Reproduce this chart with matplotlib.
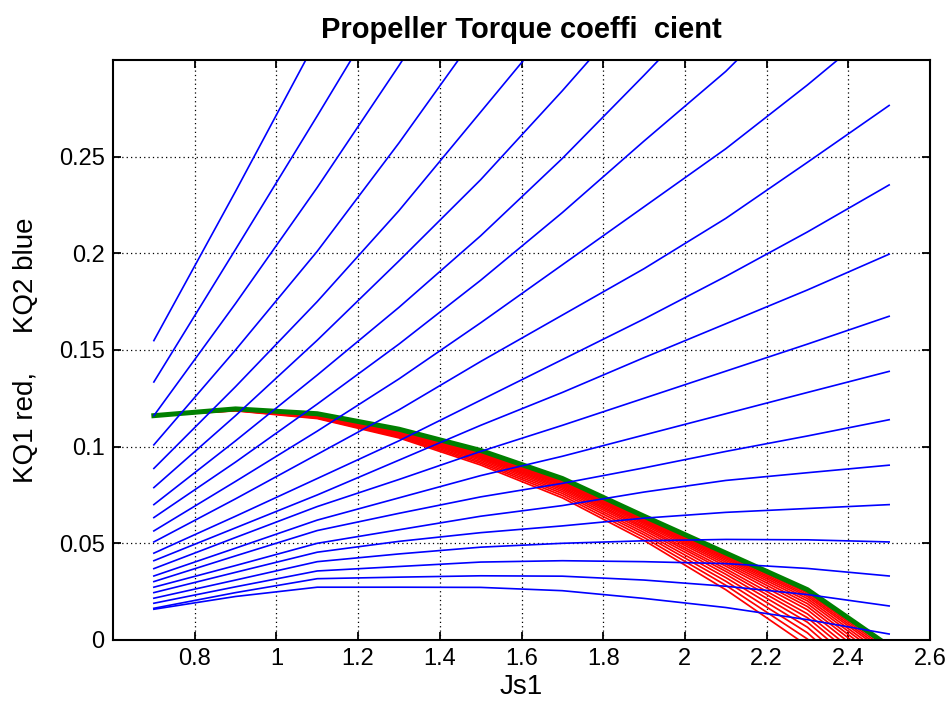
import numpy as np
import matplotlib
matplotlib.use("Agg")
import matplotlib.pyplot as plt

plt.rcParams['font.family'] = ['Liberation Sans', 'DejaVu Sans']

# advance ratio grid
js1 = [0.7, 0.9, 1.1, 1.3, 1.5, 1.7, 1.9, 2.1, 2.3, 2.5]

# KQ2 (blue) - one curve per row
kq2_blue = [
    [0.1548, 0.232, 0.311, 0.392, 0.475, 0.560, 0.645, 0.730, 0.820, 0.910],
    [0.1334, 0.202, 0.271, 0.341, 0.411, 0.483, 0.555, 0.628, 0.700, 0.775],
    [0.1160, 0.174, 0.234, 0.297, 0.362, 0.430, 0.500, 0.570, 0.640, 0.710],
    [0.1009, 0.150, 0.201, 0.257, 0.316, 0.378, 0.440, 0.500, 0.560, 0.620],
    [0.0887, 0.131, 0.175, 0.222, 0.273, 0.324, 0.378, 0.430, 0.485, 0.540],
    [0.0788, 0.116, 0.155, 0.196, 0.238, 0.284, 0.332, 0.380, 0.430, 0.480],
    [0.0700, 0.103, 0.137, 0.172, 0.209, 0.249, 0.292, 0.336, 0.380, 0.425],
    [0.0633, 0.092, 0.122, 0.153, 0.186, 0.221, 0.258, 0.294, 0.336, 0.376],
    [0.0564, 0.082, 0.108, 0.135, 0.164, 0.194, 0.224, 0.254, 0.287, 0.322],
    [0.0507, 0.073, 0.096, 0.119, 0.144, 0.168, 0.192, 0.218, 0.247, 0.2764],
    [0.0449, 0.064, 0.0835, 0.103, 0.124, 0.145, 0.166, 0.188, 0.211, 0.2353],
    [0.0410, 0.058, 0.075, 0.093, 0.111, 0.128, 0.146, 0.1635, 0.181, 0.1995],
    [0.0369, 0.053, 0.069, 0.083, 0.0975, 0.111, 0.125, 0.139, 0.153, 0.1674],
    [0.0331, 0.0475, 0.062, 0.0735, 0.085, 0.095, 0.106, 0.117, 0.128, 0.1389],
    [0.0302, 0.0435, 0.0566, 0.0655, 0.074, 0.081, 0.089, 0.0975, 0.1055, 0.1139],
    [0.0273, 0.0385, 0.050, 0.057, 0.064, 0.0695, 0.0765, 0.0825, 0.0865, 0.0904],
    [0.0245, 0.035, 0.0454, 0.051, 0.0555, 0.059, 0.063, 0.066, 0.068, 0.070],
    [0.0216, 0.031, 0.0405, 0.0445, 0.048, 0.050, 0.0513, 0.052, 0.0518, 0.0507],
    [0.0190, 0.0275, 0.0357, 0.038, 0.0403, 0.041, 0.0405, 0.0395, 0.037, 0.0331],
    [0.0164, 0.0245, 0.0317, 0.0325, 0.0332, 0.033, 0.031, 0.0278, 0.0235, 0.0176],
    [0.0159, 0.0225, 0.0273, 0.0273, 0.0272, 0.0255, 0.0215, 0.0168, 0.0105, 0.0031],
]

# KQ1 (red) family
kq1_red = [
    [0.116, 0.1185, 0.1145, 0.1045, 0.0905, 0.0735, 0.0515, 0.0260, -0.0030, -0.0432],
    [0.116, 0.1186, 0.1148, 0.1050, 0.0914, 0.0747, 0.0530, 0.0283, 0.0005, -0.0384],
    [0.116, 0.1187, 0.1151, 0.1055, 0.0922, 0.0758, 0.0544, 0.0304, 0.0037, -0.0340],
    [0.116, 0.1188, 0.1153, 0.1060, 0.0930, 0.0768, 0.0556, 0.0323, 0.0066, -0.0300],
    [0.116, 0.1189, 0.1156, 0.1064, 0.0937, 0.0777, 0.0568, 0.0340, 0.0092, -0.0264],
    [0.116, 0.1190, 0.1158, 0.1068, 0.0943, 0.0785, 0.0578, 0.0355, 0.0115, -0.0232],
    [0.116, 0.1191, 0.1159, 0.1071, 0.0948, 0.0792, 0.0586, 0.0368, 0.0135, -0.0204],
    [0.116, 0.1191, 0.1161, 0.1074, 0.0953, 0.0799, 0.0595, 0.0382, 0.0156, -0.0176],
    [0.116, 0.1192, 0.1163, 0.1077, 0.0958, 0.0805, 0.0603, 0.0393, 0.0173, -0.0152],
    [0.116, 0.1193, 0.1164, 0.1079, 0.0961, 0.0810, 0.0609, 0.0403, 0.0188, -0.0132],
    [0.116, 0.1193, 0.1165, 0.1081, 0.0965, 0.0815, 0.0615, 0.0412, 0.0202, -0.0112],
    [0.116, 0.1193, 0.1166, 0.1083, 0.0968, 0.0819, 0.0620, 0.0420, 0.0214, -0.0096],
    [0.116, 0.1194, 0.1167, 0.1085, 0.0971, 0.0823, 0.0625, 0.0427, 0.0225, -0.0080],
    [0.116, 0.1194, 0.1168, 0.1086, 0.0973, 0.0826, 0.0629, 0.0433, 0.0234, -0.0068],
    [0.116, 0.1194, 0.1169, 0.1087, 0.0976, 0.0829, 0.0633, 0.0439, 0.0243, -0.0056],
    [0.116, 0.1195, 0.1169, 0.1089, 0.0978, 0.0832, 0.0636, 0.0444, 0.0251, -0.0044],
]

# highlighted (green) curve
kq1_green = [0.116, 0.1195, 0.117, 0.109, 0.098, 0.0835, 0.064, 0.045, 0.026, -0.0032]

xtick_vals = [0.8, 1.0, 1.2, 1.4, 1.6, 1.8, 2.0, 2.2, 2.4, 2.6]
xtick_labels = ['0.8', '1', '1.2', '1.4', '1.6', '1.8', '2', '2.2', '2.4', '2.6']
ytick_vals = [0, 0.05, 0.1, 0.15, 0.2, 0.25]
ytick_labels = ['0', '0.05', '0.1', '0.15', '0.2', '0.25']

fig = plt.figure(figsize=(9.51, 7.05), dpi=100)
ax = fig.add_axes([113/951, 65/705, (930-113)/951, (640-60)/705])

for row in kq1_red:
    ax.plot(js1, row, color=(1, 0, 0), lw=1.25)
ax.plot(js1, kq1_green, color=(0, 0.5, 0), lw=3.6, solid_joinstyle='round')
for row in kq2_blue:
    ax.plot(js1, row, color=(0, 0, 1), lw=1.2)

ax.set_xlim(0.6, 2.6)
ax.set_ylim(0, 0.2999)
ax.set_xticks(xtick_vals)
ax.set_xticklabels(xtick_labels)
ax.set_yticks(ytick_vals)
ax.set_yticklabels(ytick_labels)
ax.grid(True, color='black', linestyle=(0, (1, 2.5)), linewidth=0.9)
ax.tick_params(direction='in', length=6, width=1.3, top=True, right=True,
               labelsize=17, pad=6)
for s in ax.spines.values():
    s.set_linewidth(1.5)

ax.set_xlabel('Js1', fontsize=20, labelpad=3)
ax.set_ylabel('KQ1 red,     KQ2 blue', fontsize=20, labelpad=14)
ax.set_title('Propeller Torque coeffi  cient', fontsize=21, fontweight='bold', pad=16)

fig.savefig('out.png', dpi=100)
